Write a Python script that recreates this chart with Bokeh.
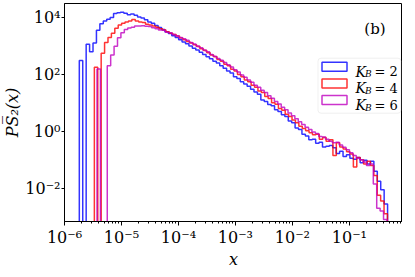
import numpy as np
from bokeh.plotting import figure
from bokeh.layouts import column
from bokeh.models import Range1d, FixedTicker, Label, BoxAnnotation, Spacer
from bokeh.embed import file_html
from bokeh.resources import INLINE

# ---------------- data ----------------
# log10 of the histogram bin range for each series
blue_log_range = (-5.74, -0.33)
red_log_range = (-5.476, -0.332)
mag_log_range = (-5.429, -0.341)

# log10 P per bin (None = empty bin)
blue_log10P = [
    2.49, None, 3.06, 2.80, 3.10, 3.55, 3.78, 3.88, 3.94, 4.00,
    4.14, 4.17, 4.18, 4.15, 4.10, 4.12, 4.08, 4.02, 3.98, 3.92,
    3.84, 3.80, 3.72, 3.65, 3.58, 3.50, 3.44, 3.36, 3.30, 3.22,
    3.14, 3.08, 3.00, 2.92, 2.86, 2.78, 2.70, 2.62, 2.55, 2.46,
    2.40, 2.30, 2.22, 2.12, 2.05, 1.92, 1.86, 1.74, 1.66, 1.58,
    1.48, 1.38, 1.30, 1.10, 1.05, 0.94, 0.90, 0.76, 0.70, 0.58,
    0.52, 0.36, 0.30, 0.12, 0.06, -0.10, -0.16, -0.30, -0.28, -0.42,
    -0.38, -0.55, -0.52, -0.50, -0.58, -0.78, -0.70, -0.88, -0.82, -0.95,
    -0.98, -0.92, -1.10, -1.02, -1.15, -1.05, -1.40, -1.75, -2.05, -2.55,
]
red_log10P = [
    2.25, None, 2.74, 3.12, 3.30, 3.45, 3.62, 3.74, 3.80, 3.84,
    3.88, 3.93, 3.88, 3.84, 3.82, 3.76, 3.74, 3.70, 3.66, 3.60,
    3.56, 3.50, 3.45, 3.40, 3.35, 3.28, 3.22, 3.16, 3.10, 3.04,
    2.98, 2.90, 2.84, 2.76, 2.68, 2.62, 2.52, 2.46, 2.36, 2.30,
    2.18, 2.12, 2.00, 1.92, 1.80, 1.74, 1.62, 1.55, 1.42, 1.36,
    1.22, 1.15, 1.00, 0.95, 0.80, 0.74, 0.60, 0.52, 0.40, 0.30,
    0.18, 0.10, 0.02, -0.05, -0.12, -0.10, -0.28, -0.22, -0.35, -0.30,
    -0.85, -0.40, -0.55, -0.62, -0.72, -0.80, -1.25, -0.92, -1.00, -1.15,
    -1.05, -1.20, -1.55, -2.25, -2.45, -2.90,
]
mag_log10P = [
    2.19, None, None, 2.30, 2.68, 2.99, 3.29, 3.46, 3.58, 3.63,
    3.66, 3.70, 3.70, 3.71, 3.69, 3.68, 3.64, 3.60, 3.56, 3.55,
    3.48, 3.46, 3.40, 3.36, 3.30, 3.25, 3.20, 3.12, 3.07, 3.00,
    2.94, 2.86, 2.80, 2.70, 2.64, 2.56, 2.50, 2.42, 2.34, 2.26,
    2.16, 2.08, 1.98, 1.90, 1.80, 1.72, 1.62, 1.55, 1.44, 1.36,
    1.25, 1.16, 1.05, 0.96, 0.85, 0.76, 0.64, 0.55, 0.44, 0.34,
    0.24, 0.14, 0.06, -0.02, -0.08, -0.18, -0.20, -0.28, -0.35, -0.40,
    -0.38, -0.48, -0.56, -0.65, -0.75, -0.85, -0.95, -1.00, -1.08, -1.20,
    -1.15, -1.85, -2.70, -2.80, -3.10,
]

series_names = ["2", "4", "6"]
series_colors = ["#0000ff", "#ff0000", "#bf00bf"]

x_major = [1e-6, 1e-5, 1e-4, 1e-3, 1e-2, 1e-1]
x_labels = ["10\u207b\u2076", "10\u207b\u2075", "10\u207b\u2074",
            "10\u207b\u00b3", "10\u207b\u00b2", "10\u207b\u00b9"]
y_major = [1e4, 1e2, 1e0, 1e-2]
y_labels = ["10\u2074", "10\u00b2", "10\u2070", "10\u207b\u00b2"]

x_min, x_max = 1e-6, 10 ** -0.068
y_min, y_max = 10 ** -3.168, 10 ** 4.491

# ---------------- figure ----------------
p = figure(
    x_axis_type="log", y_axis_type="log",
    x_range=Range1d(x_min, x_max), y_range=Range1d(y_min, y_max),
    frame_width=338, frame_height=218,
    min_border=0,
    output_backend="svg", toolbar_location=None,
)
p.grid.visible = False
p.outline_line_color = "black"
p.outline_line_width = 1
p.background_fill_color = "white"
p.border_fill_color = "white"

FONT = "DejaVu Serif"


def step_outline(log_range, log_vals, floor=1e-12):
    edges = np.logspace(log_range[0], log_range[1], len(log_vals) + 1)
    vals = [floor if v is None else 10.0 ** v for v in log_vals]
    xs = [edges[0]]
    ys = [floor]
    for i, v in enumerate(vals):
        xs += [edges[i], edges[i + 1]]
        ys += [v, v]
    xs.append(edges[-1])
    ys.append(floor)
    return xs, ys


for rng, vals, col in zip(
    [blue_log_range, red_log_range, mag_log_range],
    [blue_log10P, red_log10P, mag_log10P],
    series_colors,
):
    xs, ys = step_outline(rng, vals)
    p.line(xs, ys, line_color=col, line_width=1.5, line_alpha=0.8)

# axes
minor = [m * 10.0 ** k for k in range(-6, 0) for m in range(2, 10)]
p.xaxis.ticker = FixedTicker(ticks=x_major, minor_ticks=minor)
p.yaxis.ticker = FixedTicker(ticks=y_major, minor_ticks=[])
p.xaxis.major_label_overrides = {t: s for t, s in zip(x_major, x_labels)}
p.yaxis.major_label_overrides = {t: s for t, s in zip(y_major, y_labels)}
for ax in (p.xaxis[0], p.yaxis[0]):
    ax.major_label_text_font = FONT
    ax.major_label_text_font_size = "16px"
    ax.major_label_text_color = "black"
    ax.axis_line_color = "black"
    ax.major_tick_line_color = "black"
    ax.minor_tick_line_color = "black"
    ax.major_tick_in = 0
    ax.major_tick_out = 4
    ax.minor_tick_in = 0
    ax.minor_tick_out = 2
    ax.major_label_standoff = 2
    ax.axis_label_text_font = FONT
    ax.axis_label_text_font_style = "italic"
    ax.axis_label_text_font_size = "16px"
    ax.axis_label_text_color = "black"
    ax.axis_label_standoff = 0
p.xaxis.axis_label = "x"
p.yaxis.axis_label = "PS\u0305\u2082(x)"
p.yaxis.axis_label_standoff = 0
p.yaxis.major_tick_out = 3
p.yaxis.major_label_standoff = 1

# panel tag
p.add_layout(Label(x=310.5, y=192.3, x_units="screen", y_units="screen", text="(b)",
                   text_font=FONT, text_font_size="15px", text_align="center",
                   text_baseline="middle", text_color="black"))

# legend (drawn by hand to allow K_B subscripts)
p.add_layout(BoxAnnotation(left=253.5, right=336.5, bottom=108.3, top=163.3,
                           left_units="screen", right_units="screen",
                           top_units="screen", bottom_units="screen",
                           fill_color="white", fill_alpha=0.8,
                           line_color="#cccccc", line_width=1, border_radius=3))
row_c = [154.8, 138.1, 121.4]
for name, col, yc in zip(series_names, series_colors, row_c):
    p.add_layout(BoxAnnotation(left=257.5, right=282.5, bottom=yc - 4.5, top=yc + 4.5,
                               left_units="screen", right_units="screen",
                               top_units="screen", bottom_units="screen",
                               fill_alpha=0, line_color=col, line_width=1.5,
                               line_alpha=0.8))
    p.add_layout(Label(x=291.0, y=yc - 5, x_units="screen", y_units="screen", text="K",
                       text_font=FONT, text_font_size="14px", text_font_style="italic",
                       text_baseline="alphabetic", text_color="black"))
    p.add_layout(Label(x=300.5, y=yc - 7.5, x_units="screen", y_units="screen", text="B",
                       text_font=FONT, text_font_size="9px", text_font_style="italic",
                       text_baseline="alphabetic", text_color="black"))
    p.add_layout(Label(x=310.0, y=yc - 5, x_units="screen", y_units="screen",
                       text="= " + name, text_font=FONT, text_font_size="13px",
                       text_baseline="alphabetic", text_color="black"))

layout = column(Spacer(height=3), p, spacing=0)
open("out.html", "w").write(file_html(layout, INLINE))
